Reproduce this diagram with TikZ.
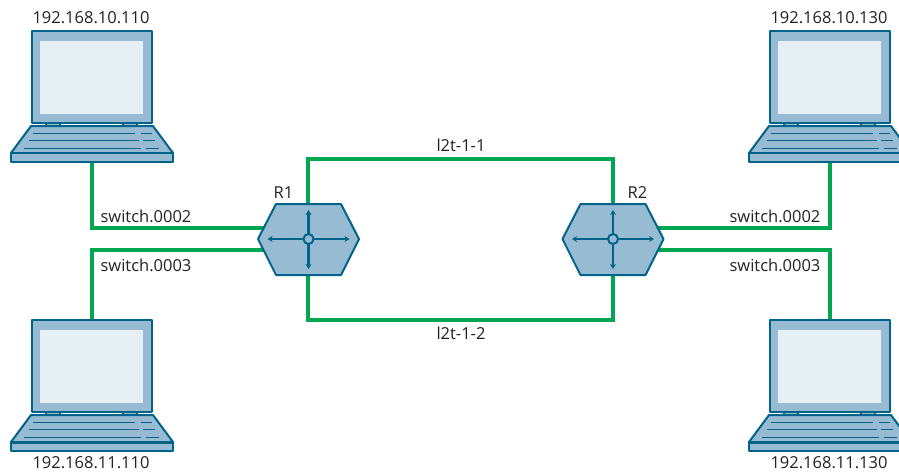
\documentclass[tikz,border=0pt]{standalone}
\usepackage{fontspec}
\setmainfont{Open Sans}
\usetikzlibrary{arrows.meta}
\definecolor{frameblue}{HTML}{00648A}
\definecolor{bodyblue}{HTML}{97BBD3}
\definecolor{screenblue}{HTML}{E5EFF4}
\definecolor{linkgreen}{HTML}{00A650}
\definecolor{textgrey}{HTML}{222222}
\tikzset{
  x=1pt,y=-1pt,
  link/.style={draw=linkgreen,line width=4pt,line join=miter},
  shell/.style={draw=frameblue,fill=bodyblue,line width=2pt,line join=round},
  keyline/.style={draw=frameblue,line width=1pt},
  axis/.style={draw=frameblue,line width=2.6pt,{Stealth[length=5pt,width=6pt]}-{Stealth[length=5pt,width=6pt]}},
  label/.style={inner sep=0pt,text=textgrey,font=\fontsize{16.5}{18}\selectfont},
  anchorpt/.style={inner sep=0pt,minimum size=0pt,outer sep=0pt},
  laptop/.pic={
    \path[shell] (31.5,31) rectangle (152,123);
    \path[fill=screenblue] (40,41) rectangle (143,114);
    \path[shell,line width=1.5pt] (46,123) rectangle (60,126);
    \path[shell,line width=1.5pt] (123,123) rectangle (137,126);
    \path[shell] (31,126) -- (153,126) -- (173,153) -- (11,153) -- cycle;
    \path[shell] (11,153) rectangle (173,162);
    \draw[keyline] (33,133) -- (135,133) (141,133) -- (152,133);
    \draw[keyline] (29,140) -- (139,140) (143,140) -- (155,140);
    \draw[keyline] (24,148) -- (141,148) (146,148) -- (159,148);
  },
  router/.pic={
    \path[shell] (-50.5,0) -- (-32.5,-35) -- (32.5,-35) -- (50.5,0) -- (32.5,36) -- (-32.5,36) -- cycle;
    \draw[axis] (-41,0) -- (41,0);
    \draw[axis] (0,-29) -- (0,30);
    \path[draw=frameblue,fill=bodyblue,line width=2pt] (0,0) circle (5);
  }
}
\begin{document}
\begin{tikzpicture}
\useasboundingbox (0,0) rectangle (899,474);
\fill[white] (0,0) rectangle (899,474);

\node[anchorpt] (r1) at (308.5,239) {};
\node[anchorpt] (r2) at (613,239) {};
\coordinate (r1t) at (308,204);
\coordinate (r1b) at (308,275);
\coordinate (r2t) at (613,204);
\coordinate (r2b) at (613,275);
\coordinate (r1u) at (265,228);
\coordinate (r1d) at (265,250);
\coordinate (r2u) at (657,228);
\coordinate (r2d) at (657,250);
\coordinate (h1) at (91.5,162);
\coordinate (h2) at (830,162);
\coordinate (h3) at (91.5,320);
\coordinate (h4) at (830,320);

\draw[link] (h1) |- (r1u);
\draw[link] (h3) |- (r1d);
\draw[link] (h2) |- (r2u);
\draw[link] (h4) |- (r2d);
\draw[link] (r1t) -- (308,159) -- (613,159) -- (r2t);
\draw[link] (r1b) -- (308,320) -- (613,320) -- (r2b);

\pic (lapA) at (0,0) {laptop};
\pic (lapB) at (738,0) {laptop};
\pic (lapC) at (0,289) {laptop};
\pic (lapD) at (738,289) {laptop};
\fill[frameblue] (11,441) rectangle (173,444);
\fill[frameblue] (749,441) rectangle (911,444);
\pic (routerA) at (r1) {router};
\pic (routerB) at (r2) {router};

\node[label] (ipA) at (91,18) {192.168.10.110};
\node[label] (ipB) at (829,18) {192.168.10.130};
\node[label] (ipC) at (91,463) {192.168.11.110};
\node[label] (ipD) at (829,463) {192.168.11.130};
\node[label] (nameA) at (283.5,192.5) {R1};
\node[label] (nameB) at (637.5,192.5) {R2};
\node[label] (swA) at (146,216) {switch.0002};
\node[label] (swB) at (146,265.5) {switch.0003};
\node[label] (swC) at (775,216) {switch.0002};
\node[label] (swD) at (775,265.5) {switch.0003};
\node[label] (tunA) at (461,145) {l2t-1-1};
\node[label] (tunB) at (461,333) {l2t-1-2};
\end{tikzpicture}
\end{document}
